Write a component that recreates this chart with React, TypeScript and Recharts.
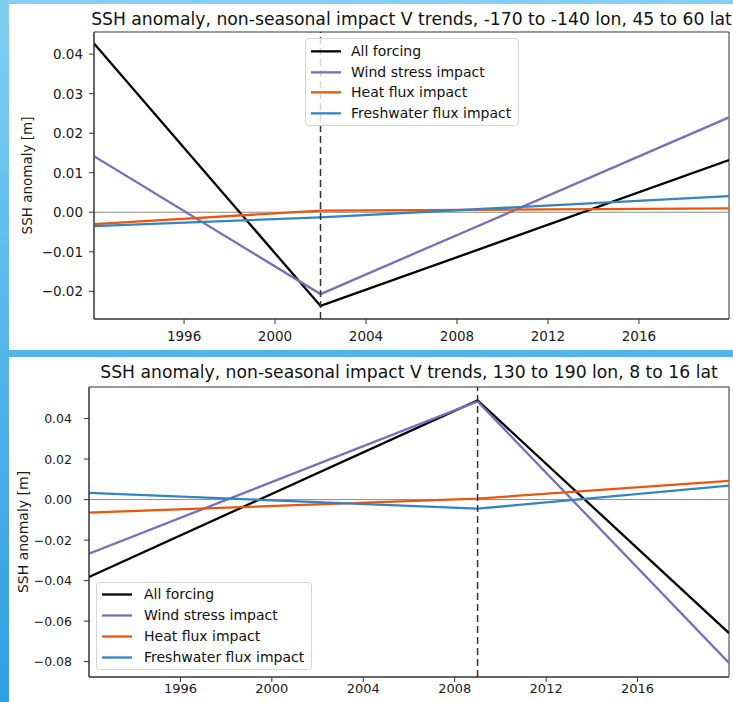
import React from 'react';
import { LineChart, Line, XAxis, YAxis, ReferenceLine, ReferenceArea, Legend } from 'recharts';

// ---- Top panel data ----
const topTitle = 'SSH anomaly, non-seasonal impact V trends, -170 to -140 lon, 45 to 60 lat';
const topYears = [1992.04, 2002, 2019.96];
const topAll = [0.0427, -0.0237, 0.0132];
const topWind = [0.0142, -0.0207, 0.024];
const topHeat = [-0.003, 0.0004, 0.001];
const topFresh = [-0.0035, -0.0013, 0.0041];
const topYTicks = [-0.02, -0.01, 0, 0.01, 0.02, 0.03, 0.04];
const topYDomain = [-0.027, 0.0456];
const topXDomain = [1992.04, 2019.96];
const topBreak = 2002;

// ---- Bottom panel data ----
const botTitle = 'SSH anomaly, non-seasonal impact V trends, 130 to 190 lon, 8 to 16 lat';
const botYears = [1992.0, 2009, 2020.0];
const botAll = [-0.0382, 0.049, -0.0659];
const botWind = [-0.0267, 0.0485, -0.0807];
const botHeat = [-0.0064, 0.0005, 0.0092];
const botFresh = [0.0033, -0.0045, 0.0069];
const botYTicks = [-0.08, -0.06, -0.04, -0.02, 0, 0.02, 0.04];
const botYDomain = [-0.0876, 0.0556];
const botXDomain = [1992.0, 2020.0];
const botBreak = 2009;

const xTicks = [1996, 2000, 2004, 2008, 2012, 2016];
const seriesNames = ['All forcing', 'Wind stress impact', 'Heat flux impact', 'Freshwater flux impact'];
const seriesColors = ['#000000', '#7a6dbb', '#eb560e', '#3484c2'];

const FONT = '"DejaVu Sans", sans-serif';
const LW = 2.3;

function build(years: number[], a: number[], w: number[], h: number[], f: number[]) {
  return years.map((y, i) => ({ year: y, all: a[i], wind: w[i], heat: h[i], fresh: f[i] }));
}
const topData = build(topYears, topAll, topWind, topHeat, topFresh);
const botData = build(botYears, botAll, botWind, botHeat, botFresh);

const fmt = (v: number) => {
  const s = Math.abs(v) < 1e-9 ? '0.00' : v.toFixed(2);
  return s.replace('-', '\u2212');
};

const makeLegend = (rowH: number, pad: number, textX: number) => (props: any) => {
  const payload = [...(props.payload || [])].sort(
    (a: any, b: any) => seriesNames.indexOf(a.value) - seriesNames.indexOf(b.value)
  );
  return (
    <div
      style={{
        boxSizing: 'border-box',
        width: '100%',
        height: '100%',
        border: '1px solid #d6d6d6',
        borderRadius: 4,
        background: 'rgba(255,255,255,0.8)',
        paddingTop: pad,
        fontFamily: FONT,
        fontSize: 14,
        color: '#111',
        textAlign: 'left',
      }}
    >
      {payload.map((p: any, i: number) => (
        <div key={i} style={{ position: 'relative', height: rowH, lineHeight: rowH + 'px' }}>
          <svg
            width={30}
            height={rowH}
            style={{ position: 'absolute', left: 5, top: 0, overflow: 'visible' }}
          >
            <line x1={0} x2={30} y1={rowH / 2} y2={rowH / 2} stroke={p.color} strokeWidth={LW} />
          </svg>
          <span style={{ position: 'absolute', left: textX, top: 0, whiteSpace: 'nowrap' }}>{p.value}</span>
        </div>
      ))}
    </div>
  );
};

const makeXTick = (fs: number) => (props: any) => {
  const { x, y, payload } = props;
  return (
    <text x={x} y={y} dy={fs * 0.73} textAnchor="middle" fontFamily={FONT} fontSize={fs} fill="#1a1a1a">
      {payload.value}
    </text>
  );
};

const makeYTick = (fs: number) => (props: any) => {
  const { x, y, payload } = props;
  return (
    <text x={x} y={y} dy={fs * 0.36} textAnchor="end" fontFamily={FONT} fontSize={fs} fill="#1a1a1a">
      {fmt(payload.value)}
    </text>
  );
};

type PanelProps = {
  data: any[];
  title: string;
  yTicks: number[];
  yDomain: number[];
  xDomain: number[];
  brk: number;
  height: number;
  marginTop: number;
  xAxisH: number;
  yAxisW: number;
  xTickFont: number;
  yTickFont: number;
  labelFont: number;
  yTickMargin: number;
  xTickMargin: number;
  titleFont: number;
  titleY: number;
  labelOffset: number;
  legendBox: { left: number; top: number; width: number; height: number };
  legendRowH: number;
  legendPad: number;
  legendTextX: number;
};

function Panel(p: PanelProps) {
  const plotW = 724 - 4 - p.yAxisW;
  return (
    <div style={{ position: 'relative', width: 724, height: p.height }}>
      <div
        style={{
          position: 'absolute',
          left: p.yAxisW - 100,
          width: plotW + 200,
          top: p.titleY - p.titleFont * 0.6,
          textAlign: 'center',
          fontFamily: FONT,
          fontSize: p.titleFont,
          color: '#111',
          whiteSpace: 'nowrap',
          lineHeight: 1.2 + '',
        }}
      >
        {p.title}
      </div>
      <LineChart
        width={724}
        height={p.height}
        data={p.data}
        margin={{ top: p.marginTop, right: 4, bottom: 0, left: 0 }}
        style={{ position: 'absolute', left: 0, top: 0 }}
      >
        <XAxis
          dataKey="year"
          type="number"
          domain={p.xDomain}
          ticks={xTicks}
          allowDataOverflow
          height={p.xAxisH}
          tick={makeXTick(p.xTickFont)}
          tickSize={5}
          tickMargin={p.xTickMargin}
          stroke="#333"
          axisLine={{ stroke: '#333' }}
          tickLine={{ stroke: '#333' }}
        />
        <YAxis
          type="number"
          domain={p.yDomain}
          ticks={p.yTicks}
          allowDataOverflow
          width={p.yAxisW}
          tick={makeYTick(p.yTickFont)}
          tickSize={5}
          tickMargin={p.yTickMargin}
          stroke="#333"
          label={{
            value: 'SSH anomaly [m]',
            angle: -90,
            position: 'insideLeft',
            offset: p.labelOffset,
            style: { fontFamily: FONT, fontSize: p.labelFont, fill: '#1a1a1a', textAnchor: 'middle' },
          }}
        />
        <ReferenceLine y={0} stroke="#8a8a8a" strokeWidth={1} />
        <Line dataKey="all" name={seriesNames[0]} stroke={seriesColors[0]} strokeWidth={LW} dot={false} isAnimationActive={false} />
        <Line dataKey="wind" name={seriesNames[1]} stroke={seriesColors[1]} strokeWidth={LW} dot={false} isAnimationActive={false} />
        <Line dataKey="heat" name={seriesNames[2]} stroke={seriesColors[2]} strokeWidth={LW} dot={false} isAnimationActive={false} />
        <Line dataKey="fresh" name={seriesNames[3]} stroke={seriesColors[3]} strokeWidth={LW} dot={false} isAnimationActive={false} />
        <ReferenceLine x={p.brk} stroke="#333" strokeWidth={1.5} strokeDasharray="7 4" />
        <ReferenceArea
          x1={p.xDomain[0]}
          x2={p.xDomain[1]}
          y1={p.yDomain[0]}
          y2={p.yDomain[1]}
          fill="none"
          fillOpacity={0}
          stroke="#333"
          strokeWidth={1}
        />
        <Legend
          layout="vertical"
          align="center"
          verticalAlign="middle"
          content={makeLegend(p.legendRowH, p.legendPad, p.legendTextX)}
          wrapperStyle={{
            position: 'absolute',
            left: p.legendBox.left,
            top: p.legendBox.top,
            width: p.legendBox.width,
            height: p.legendBox.height,
            bottom: 'auto',
            right: 'auto',
          }}
        />
      </LineChart>
    </div>
  );
}

export default function App() {
  return (
    <div
      style={{
        position: 'absolute',
        left: 0,
        top: 0,
        width: 733,
        height: 702,
        background: 'linear-gradient(to bottom, #7fd0f3, #52b5ec 50%, #2f9fe6)',
        overflow: 'hidden',
      }}
    >
      <div style={{ position: 'absolute', left: 9, top: 4, width: 724, height: 346, background: '#fff' }}>
        <Panel
          data={topData}
          title={topTitle}
          yTicks={topYTicks}
          yDomain={topYDomain}
          xDomain={topXDomain}
          brk={topBreak}
          height={346}
          marginTop={28}
          xAxisH={31}
          yAxisW={85}
          xTickFont={13.5}
          yTickFont={13.5}
          labelFont={13.5}
          yTickMargin={6}
          xTickMargin={7}
          titleFont={17.2}
          titleY={15}
          labelOffset={18}
          legendBox={{ left: 296, top: 34, width: 214, height: 88 }}
          legendRowH={20.7}
          legendPad={2}
          legendTextX={45}
        />
      </div>
      <div style={{ position: 'absolute', left: 9, top: 357, width: 724, height: 345, background: '#fff' }}>
        <Panel
          data={botData}
          title={botTitle}
          yTicks={botYTicks}
          yDomain={botYDomain}
          xDomain={botXDomain}
          brk={botBreak}
          height={345}
          marginTop={30}
          xAxisH={25}
          yAxisW={80}
          xTickFont={13}
          yTickFont={12.5}
          labelFont={14}
          yTickMargin={12}
          xTickMargin={2}
          titleFont={17.2}
          titleY={15}
          labelOffset={14}
          legendBox={{ left: 87, top: 225, width: 216, height: 88 }}
          legendRowH={21}
          legendPad={1}
          legendTextX={47}
        />
      </div>
    </div>
  );
}
